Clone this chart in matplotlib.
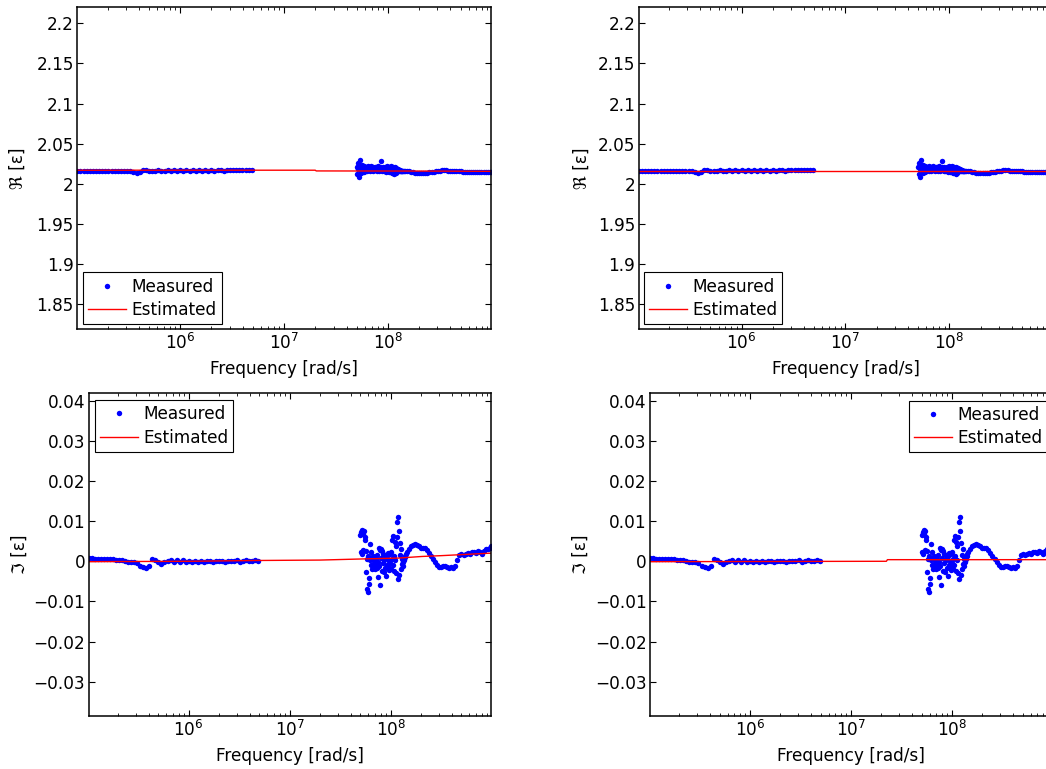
import numpy as np
import matplotlib
matplotlib.use("Agg")
import matplotlib.pyplot as plt
from matplotlib.ticker import FixedLocator, FuncFormatter, LogLocator, NullFormatter

plt.rcParams['font.family'] = ['DejaVu Sans']
plt.rcParams['font.size'] = 12.2
plt.rcParams['mathtext.fontset'] = 'dejavusans'

# ---------------- data ----------------
# measured frequencies, log10(rad/s)
meas_logf_low = [5.01, 5.04, 5.07, 5.10, 5.13, 5.16, 5.19, 5.22, 5.25, 5.28,
                 5.31, 5.34, 5.37, 5.40, 5.43, 5.46, 5.49, 5.52, 5.55, 5.58,
                 5.61, 5.64, 5.67, 5.70, 5.73, 5.76, 5.79, 5.82, 5.85, 5.88,
                 5.91, 5.94, 5.97, 6.00, 6.03, 6.06, 6.09, 6.12, 6.15, 6.18,
                 6.21, 6.24, 6.27, 6.30, 6.33, 6.36, 6.39, 6.42, 6.45, 6.48,
                 6.51, 6.54, 6.57, 6.60, 6.63, 6.66, 6.69]
meas_re_low = [2.0164, 2.0165, 2.0164, 2.0165, 2.0165, 2.0164, 2.0165, 2.0164, 2.0165, 2.0164,
               2.0165, 2.0164, 2.0165, 2.0164, 2.0163, 2.0162, 2.0160, 2.0155, 2.0146, 2.0141,
               2.0145, 2.0171, 2.0168, 2.0165, 2.0162, 2.0166, 2.0169, 2.0166, 2.0164, 2.0168,
               2.0165, 2.0169, 2.0164, 2.0167, 2.0165, 2.0168, 2.0164, 2.0167, 2.0166, 2.0168,
               2.0165, 2.0167, 2.0166, 2.0168, 2.0165, 2.0167, 2.0169, 2.0166, 2.0168, 2.0170,
               2.0167, 2.0171, 2.0169, 2.0172, 2.0170, 2.0173, 2.0171]
meas_im_low_milli = [0.7, 0.7, 0.6, 0.6, 0.6, 0.5, 0.5, 0.5, 0.5, 0.4,
                     0.4, 0.3, 0.1, -0.1, -0.2, -0.3, -0.5, -1.1, -1.5, -1.6,
                     -1.2, 0.5, 0.2, -0.2, -0.6, -0.3, 0.1, 0.2, -0.2, 0.2,
                     -0.1, 0.2, -0.3, 0.1, -0.1, 0.0, -0.2, 0.1, -0.1, 0.0,
                     0.1, -0.1, 0.1, 0.0, 0.1, -0.1, 0.1, 0.0, 0.1, 0.2,
                     -0.1, 0.1, 0.2, 0.0, 0.1, 0.2, 0.1]

meas_logf_scatter = [7.700, 7.705, 7.710, 7.715, 7.720, 7.725, 7.730, 7.735, 7.740, 7.745,
                     7.750, 7.755, 7.760, 7.765, 7.770, 7.775, 7.780, 7.785, 7.790, 7.795,
                     7.800, 7.805, 7.810, 7.815, 7.820, 7.825, 7.830, 7.835, 7.840, 7.845,
                     7.850, 7.855, 7.860, 7.865, 7.870, 7.875, 7.880, 7.885, 7.890, 7.895,
                     7.900, 7.905, 7.910, 7.915, 7.920, 7.925, 7.930, 7.935, 7.940, 7.945,
                     7.950, 7.955, 7.960, 7.965, 7.970, 7.975, 7.980, 7.985, 7.990, 7.995,
                     8.000, 8.005, 8.010, 8.015, 8.020, 8.025, 8.030, 8.035, 8.040, 8.045,
                     8.050, 8.055, 8.060, 8.065, 8.070, 8.075, 8.080, 8.085, 8.090, 8.095,
                     8.100, 8.105, 8.110, 8.115, 8.120, 8.125, 8.130, 8.135, 8.140, 8.145,
                     8.150]
meas_re_scatter_milli = [21.5, 12.0, 26.0, 18.5, 9.0, 23.5, 29.5, 17.0, 21.0, 14.0,
                         23.0, 18.0, 20.5, 15.0, 22.0, 19.0, 16.5, 21.0, 18.0, 20.0,
                         15.5, 22.5, 17.5, 19.5, 21.0, 16.5, 20.0, 18.0, 22.0, 17.0,
                         19.0, 21.0, 16.0, 19.5, 18.0, 20.5, 17.0, 21.5, 15.5, 19.0,
                         22.0, 18.0, 20.0, 16.5, 19.5, 21.0, 29.0, 17.5, 20.0, 16.0,
                         21.5, 18.5, 15.5, 20.0, 17.0, 21.0, 18.0, 15.0, 19.5, 22.0,
                         17.0, 20.0, 14.5, 21.5, 18.0, 16.0, 22.5, 13.0, 19.0, 21.0,
                         15.0, 18.5, 12.5, 21.5, 17.0, 14.0, 20.0, 16.5, 19.0, 15.5,
                         18.0, 16.0, 17.5, 15.5, 17.0, 16.0, 16.5, 15.5, 16.5, 16.0,
                         16.5]
meas_im_scatter_milli = [6.5, 2.4, 7.2, 1.8, 7.8, 6.8, 2.9, 7.5, 6.0, 5.2,
                         2.6, -2.6, 0.6, -6.8, -7.6, 1.2, -5.6, -4.2, 0.2, 4.3,
                         -1.0, 2.2, -1.8, 0.7, -0.6, 1.3, -1.4, 0.3, -2.0, 1.0,
                         -0.8, 0.5, -1.6, 1.6, -4.0, -0.3, 3.4, -1.2, 2.8, -6.0,
                         3.1, 0.9, -2.3, 2.6, -0.5, 1.9, -2.7, 0.4, 1.5, -1.7,
                         0.8, -3.6, 1.2, -0.9, 2.0, -1.3, 0.1, -2.2, 1.7, -0.4,
                         2.4, -1.9, 0.6, 5.2, -1.0, 6.4, 1.3, -2.4, 4.7, 0.2,
                         3.9, -3.0, 6.0, 9.7, -4.4, 11.0, 7.6, -3.5, 4.6, 1.6,
                         -1.8, 3.0, -0.8, 0.6, -1.2, -0.3, 0.2, 0.6, 1.0, 1.4,
                         1.9]

meas_logf_high = [8.16, 8.18, 8.20, 8.22, 8.24, 8.26, 8.28, 8.30, 8.32, 8.34,
                  8.36, 8.38, 8.40, 8.42, 8.44, 8.46, 8.48, 8.50, 8.52, 8.54,
                  8.56, 8.58, 8.60, 8.62, 8.64, 8.66, 8.68, 8.70, 8.72, 8.74,
                  8.76, 8.78, 8.80, 8.82, 8.84, 8.86, 8.88, 8.90, 8.92, 8.94,
                  8.96, 8.98, 8.995]
meas_re_high_milli = [16.5, 16.0, 15.5, 15.0, 14.5, 14.0, 13.6, 13.5, 13.8, 13.4,
                      13.2, 13.6, 14.2, 14.4, 15.0, 15.5, 16.2, 16.5, 16.8, 17.0,
                      16.7, 16.5, 16.0, 15.6, 15.5, 15.8, 16.0, 15.4, 15.0, 14.6,
                      14.9, 14.5, 14.3, 14.8, 14.4, 14.2, 14.6, 14.3, 14.8, 14.4,
                      14.2, 14.6, 14.3]
meas_im_high_milli = [2.4, 3.1, 3.7, 4.1, 4.3, 4.1, 3.7, 3.4, 3.3, 3.2,
                      2.7, 2.0, 1.3, 0.5, -0.3, -1.0, -1.4, -1.5, -1.3, -1.2,
                      -1.5, -1.6, -1.4, -1.7, -1.2, 0.4, 1.5, 1.7, 1.6, 1.9,
                      2.0, 1.9, 2.2, 2.3, 2.1, 2.6, 2.3, 1.8, 2.6, 3.0,
                      3.1, 3.4, 3.7]

# estimated model curves (left and right columns)
est_left_re_logf = [5.01, 7.30, 7.31, 8.40, 8.995]
est_left_re = [2.0170, 2.0170, 2.0161, 2.0159, 2.0156]
est_left_im_logf = [5.01, 6.00, 6.70, 7.30, 7.75, 8.08, 8.31, 8.50, 8.97, 8.995]
est_left_im = [-0.0001, 0.0000, 0.0002, 0.0003, 0.0006, 0.0008, 0.0012, 0.0014, 0.0020, 0.0020]
est_right_re_logf = [5.01, 8.995]
est_right_re = [2.0166, 2.0166]
est_right_im_logf = [5.01, 7.35, 7.36, 8.995]
est_right_im = [-0.0001, 0.0000, 0.0004, 0.0004]

re_ticks = [1.85, 1.9, 1.95, 2.0, 2.05, 2.1, 2.15, 2.2]
im_ticks = [-0.03, -0.02, -0.01, 0.0, 0.01, 0.02, 0.03, 0.04]
re_ylim = (1.8192, 2.2203)
im_ylim = (-0.03854, 0.04184)

# ---------------- assemble ----------------
meas_f = 10.0 ** np.array(meas_logf_low + meas_logf_scatter + meas_logf_high)
meas_re = np.array(meas_re_low + list(2.0 + np.array(meas_re_scatter_milli) * 1e-3)
                   + list(2.0 + np.array(meas_re_high_milli) * 1e-3))
meas_im = np.array(meas_im_low_milli + meas_im_scatter_milli + meas_im_high_milli) * 1e-3
f_min, f_max = meas_f.min(), meas_f.max()

W, H = 1046, 769
fig = plt.figure(figsize=(W / 100, H / 100), dpi=100)


def px_axes(l, t, r, b):
    return fig.add_axes([l / W, 1 - b / H, (r - l) / W, (b - t) / H])


def fmt(v, p):
    return ('%g' % v).replace('-', '\u2212')


def style(ax, yticks, ylim, ylabel, ylabel_x, hpx):
    ax.set_xscale('log')
    ax.set_xlim(f_min, f_max)
    ax.set_ylim(*ylim)
    ax.yaxis.set_major_locator(FixedLocator(yticks))
    ax.yaxis.set_major_formatter(FuncFormatter(fmt))
    ax.xaxis.set_major_locator(LogLocator(base=10, numticks=12))
    ax.xaxis.set_minor_locator(LogLocator(base=10, subs=(2, 3, 4, 5, 6, 7, 8, 9), numticks=30))
    ax.xaxis.set_minor_formatter(NullFormatter())
    ax.tick_params(which='both', direction='in', top=True, right=True, colors='black')
    ax.tick_params(which='major', length=4, width=0.8, pad=2.5)
    ax.tick_params(which='minor', length=2.5, width=0.6)
    for s in ax.spines.values():
        s.set_linewidth(1.1)
    ax.set_xlabel('Frequency [rad/s]', va='center')
    ax.xaxis.set_label_coords(0.5, -40.0 / hpx)
    ax.set_ylabel(ylabel, va='center')
    ax.yaxis.set_label_coords(ylabel_x, 0.5)


def draw(ax, y_meas, est_logf, est_y, leg_loc, leg_anchor):
    ax.plot(meas_f, y_meas, 'o', ls='none', color='#0000ff', ms=3.9, mew=0, label='Measured')
    ax.plot(10.0 ** np.array(est_logf), est_y, '-', color='#ff0000', lw=1.0, label='Estimated')
    leg = ax.legend(loc=leg_loc, bbox_to_anchor=leg_anchor, borderaxespad=0,
                    frameon=True, fancybox=False, framealpha=1, edgecolor='black',
                    handlelength=2.25, handletextpad=0.3, borderpad=0.3,
                    labelspacing=0.32)
    leg.get_frame().set_linewidth(0.8)


ax_tl = px_axes(77.3, 7, 491.3, 329)
ax_tr = px_axes(638.7, 7, 1052.7, 329)
ax_bl = px_axes(88.7, 393.3, 491.3, 716)
ax_br = px_axes(650.0, 393.3, 1052.6, 716)

re_label = '\u211c [\u03b5]'
im_label = '\u2111 [\u03b5]'

draw(ax_tl, meas_re, est_left_re_logf, est_left_re, 'lower left', (0.0138, 0.0155))
style(ax_tl, re_ticks, re_ylim, re_label, -0.143, 322)

draw(ax_tr, meas_re, est_right_re_logf, est_right_re, 'lower left', (0.0128, 0.0155))
style(ax_tr, re_ticks, re_ylim, re_label, -0.137, 322)

draw(ax_bl, meas_im, est_left_im_logf, est_left_im, 'upper left', (0.0156, 0.979))
style(ax_bl, im_ticks, im_ylim, im_label, -0.171, 322.7)

draw(ax_br, meas_im, est_right_im_logf, est_right_im, 'upper right', (0.988, 0.977))
style(ax_br, im_ticks, im_ylim, im_label, -0.171, 322.7)

fig.savefig('out.png', dpi=100)
